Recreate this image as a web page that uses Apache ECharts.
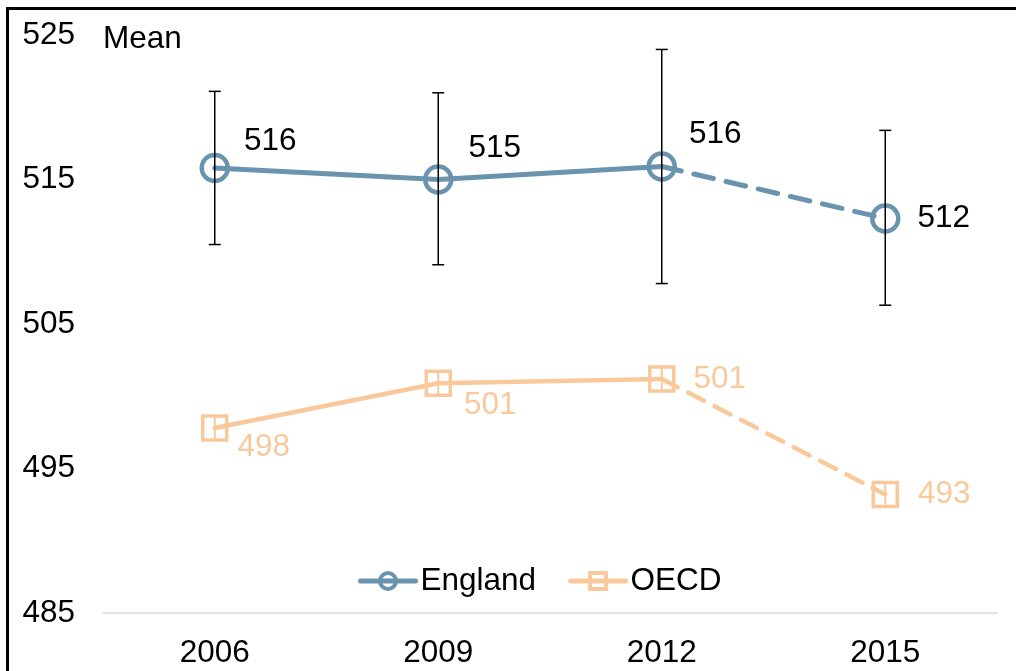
<!DOCTYPE html>
<html>
<head>
<meta charset="utf-8">
<script src="https://cdn.jsdelivr.net/npm/echarts@6/dist/echarts.min.js"></script>
<style>
html,body{margin:0;padding:0;background:#fff;}
#chart{width:1016px;height:671px;}
</style>
</head>
<body>
<div id="chart"></div>
<script>
const years = ['2006', '2009', '2012', '2015'];
const england = [515.8, 515.0, 515.9, 512.3];
const englandLow = [510.5, 509.1, 507.8, 506.3];
const englandHigh = [521.1, 521.0, 524.0, 518.4];
const oecd = [497.8, 500.9, 501.2, 493.2];
const oecdLow = [497.0, 500.1, 500.4, 492.4];
const oecdHigh = [498.6, 501.7, 502.0, 494.0];
const yMin = 485, yMax = 525, yStep = 10;
const yName = 'Mean';

const BLUE = '#6A94AD';
const PEACH = '#F9C99C';
const FONT = 'Liberation Sans, Arial, sans-serif';
const FS = 31.5;

const englandLabelOffsets = [[14, -27], [15, -31], [12, -32], [17, 0]];
const oecdLabelOffsets = [[9, 19], [12, 22], [18, 0], [19, 0]];

function fmt(p) { return Math.round(p.value); }

function buildData(values, offsets, from, to, hideFirst) {
  return values.map((v, i) => {
    if (i < from || i > to) return '-';
    const hidden = hideFirst && i === from;
    return {
      value: v,
      symbol: hidden ? 'none' : undefined,
      label: { show: !hidden, offset: offsets[i] }
    };
  });
}

function lineSeries(name, values, offsets, color, symbol, size, bw, lw, dashed) {
  const from = dashed ? 2 : 0, to = dashed ? 3 : 2;
  return {
    name: name,
    type: 'line',
    data: buildData(values, offsets, from, to, dashed),
    symbol: symbol,
    symbolSize: size,
    showAllSymbol: true,
    itemStyle: { color: 'rgba(255,255,255,0)', borderColor: color, borderWidth: bw },
    lineStyle: { color: color, width: lw, type: dashed ? [lw * 4, lw * 2.6] : 'solid', cap: 'round' },
    label: {
      show: true, position: 'right', distance: 0, formatter: fmt,
      fontSize: FS, fontFamily: FONT, color: name === 'England' ? '#000' : color
    },
    emphasis: { disabled: true },
    z: 2
  };
}

function errSeries(low, high, color, width, cap) {
  return {
    type: 'custom',
    data: years.map((y, i) => [i, low[i], high[i]]),
    renderItem: function (params, api) {
      const x = api.value(0);
      const lo = api.coord([x, api.value(1)]);
      const hi = api.coord([x, api.value(2)]);
      const st = { stroke: color, lineWidth: width };
      return {
        type: 'group',
        children: [
          { type: 'line', shape: { x1: lo[0], y1: lo[1], x2: hi[0], y2: hi[1] }, style: st },
          { type: 'line', shape: { x1: lo[0] - cap, y1: lo[1], x2: lo[0] + cap, y2: lo[1] }, style: st },
          { type: 'line', shape: { x1: hi[0] - cap, y1: hi[1], x2: hi[0] + cap, y2: hi[1] }, style: st }
        ]
      };
    },
    z: 5,
    silent: true
  };
}

const chart = echarts.init(document.getElementById('chart'));
chart.setOption({
  animation: false,
  backgroundColor: '#fff',
  grid: { left: 103, right: 19, top: 35, bottom: 58, containLabel: false },
  graphic: [{
    type: 'rect',
    shape: { x: 7.5, y: 8.5, width: 1100, height: 800 },
    style: { fill: 'none', stroke: '#000', lineWidth: 3 },
    z: 100
  }],
  legend: {
    data: ['England', 'OECD'],
    left: 358, top: 565, padding: 0,
    itemWidth: 55, itemHeight: 20, itemGap: 32,
    lineStyle: { width: 5 },
    itemStyle: { borderWidth: 4 },
    textStyle: { fontSize: FS, fontFamily: FONT, color: '#000', padding: [0, 0, 0, 0] },
    selectedMode: false
  },
  xAxis: {
    type: 'category',
    data: years,
    boundaryGap: true,
    axisLine: { lineStyle: { color: '#D9D9D9', width: 1.5 } },
    axisTick: { show: false },
    axisLabel: { fontSize: FS, fontFamily: FONT, color: '#000', margin: 24 }
  },
  yAxis: {
    type: 'value',
    min: yMin, max: yMax, interval: yStep,
    name: yName,
    nameLocation: 'end',
    nameGap: -4,
    nameTextStyle: { fontSize: FS, fontFamily: FONT, color: '#000', align: 'left', verticalAlign: 'middle' },
    axisLine: { show: false },
    axisTick: { show: false },
    splitLine: { show: false },
    axisLabel: { fontSize: FS, fontFamily: FONT, color: '#000', margin: 28 }
  },
  series: [
    lineSeries('England', england, englandLabelOffsets, BLUE, 'circle', 26, 4.5, 5, false),
    lineSeries('England', england, englandLabelOffsets, BLUE, 'circle', 26, 4.5, 5, true),
    lineSeries('OECD', oecd, oecdLabelOffsets, PEACH, 'rect', 24, 3.5, 4.5, false),
    lineSeries('OECD', oecd, oecdLabelOffsets, PEACH, 'rect', 24, 3.5, 4.5, true),
    errSeries(englandLow, englandHigh, '#000', 1.5, 6),
    errSeries(oecdLow, oecdHigh, PEACH, 2, 0)
  ]
});
</script>
</body>
</html>
